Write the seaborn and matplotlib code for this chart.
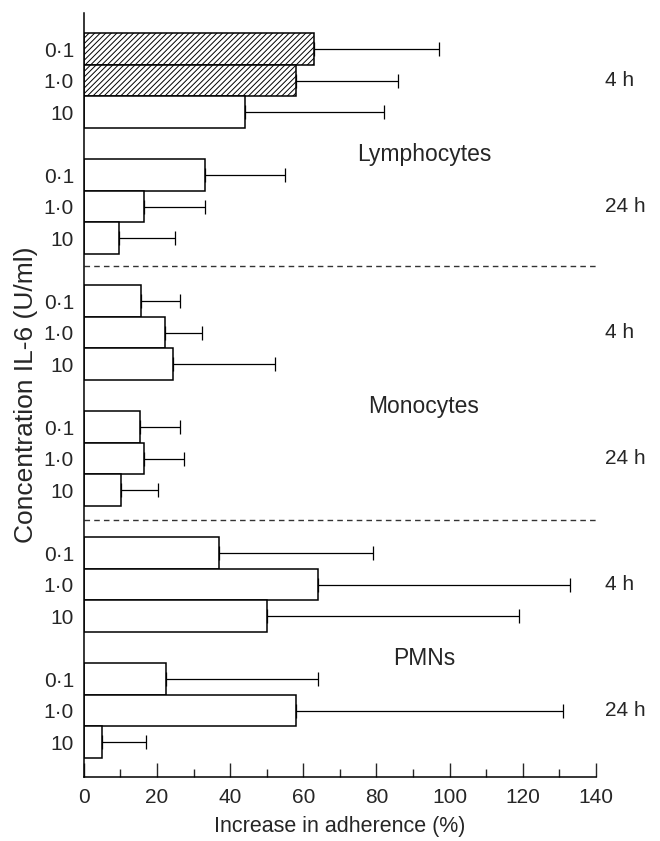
#!/usr/bin/env python3
# -*- coding: utf-8 -*-

import numpy as np
import pandas as pd
import matplotlib
matplotlib.use('Agg')
import matplotlib.pyplot as plt
import matplotlib.ticker as ticker
import seaborn as sns

# --------------------
# DATA
# --------------------
cells = ['Lymphocytes', 'Monocytes', 'PMNs']
times = ['4 h', '24 h']
concs = ['0\u00b71', '1\u00b70', '10']

# mean increase in adherence (%), per cell -> time -> concentration
lymph_mean = [63, 58, 44, 33, 16.5, 9.5]
lymph_err = [97, 86, 82, 55, 33, 25]
mono_mean = [15.5, 22.3, 24.5, 15.3, 16.4, 10.2]
mono_err = [26.4, 32.2, 52.2, 26.2, 27.4, 20.3]
pmn_mean = [37, 64, 50, 22.4, 58, 5]
pmn_err = [79, 133, 119, 64, 131, 17]

hatched = [True, True, False, False, False, False,
           False, False, False, False, False, False,
           False, False, False, False, False, False]

xticks_major = [0, 20, 40, 60, 80, 100, 120, 140]

# --------------------
# BUILD TABLE
# --------------------
rows = []
for b, (cell, means, errs) in enumerate(zip(cells,
                                            [lymph_mean, mono_mean, pmn_mean],
                                            [lymph_err, mono_err, pmn_err])):
    for t, time in enumerate(times):
        for c, conc in enumerate(concs):
            i = t * 3 + c
            rows.append({'cell': cell, 'time': time, 'conc': conc,
                         'pos': b * 8 + t * 4 + c,
                         'value': means[i], 'upper': errs[i]})
df = pd.DataFrame(rows)

# --------------------
# PLOT
# --------------------
sns.set_theme(style='ticks')
plt.rcParams['font.family'] = ['Liberation Sans', 'DejaVu Sans']
plt.rcParams['hatch.linewidth'] = 0.7

fig = plt.figure(figsize=(6.6, 8.41), dpi=100)
ax = fig.add_axes([0.127, 0.076, 0.776, 0.909])

sns.barplot(data=df, x='value', y='pos', orient='h', native_scale=True,
            width=1.0, color='white', edgecolor='black', linewidth=1.1,
            errorbar=None, ax=ax)

for p, h in zip(ax.patches, hatched):
    p.set_facecolor('white')
    if h:
        p.set_hatch('//////')

ax.errorbar(df['value'], df['pos'],
            xerr=[np.zeros(len(df)), df['upper'] - df['value']],
            fmt='none', ecolor='black', elinewidth=0.9, capsize=5, capthick=0.9)

# separators between cell types
for ysep in [6.9, 14.95]:
    ax.plot([0, 140], [ysep, ysep], ls=(0, (4, 3)), color='#333333', lw=1.0)

# annotations
for b, cell in enumerate(cells):
    ax.text(93, b * 8 + 3.33, cell, ha='center', va='center', fontsize=16.5)
    for t, time in enumerate(times):
        ax.text(142.5, b * 8 + t * 4 + 1, time, ha='left', va='center',
                fontsize=15, clip_on=False)

ax.set_xlim(0, 140)
ax.set_ylim(23.11, -1.16)
ax.set_yticks(df['pos'])
ax.set_yticklabels(df['conc'])
ax.tick_params(axis='y', length=0, pad=7, labelsize=15)

ax.xaxis.set_major_locator(ticker.FixedLocator(xticks_major))
ax.xaxis.set_minor_locator(ticker.FixedLocator(np.arange(10, 140, 20)))
ax.tick_params(axis='x', which='major', direction='in', length=10, width=1,
               pad=8, labelsize=15)
ax.tick_params(axis='x', which='minor', direction='in', length=6, width=1)

ax.set_xlabel('Increase in adherence (%)', fontsize=15.5, labelpad=6)
ax.set_ylabel('Concentration IL-6 (U/ml)', fontsize=19, labelpad=4)

sns.despine(ax=ax, top=True, right=True)
for s in ['left', 'bottom']:
    ax.spines[s].set_linewidth(1.1)
    ax.spines[s].set_color('black')

fig.savefig('out.png', dpi=100)
plt.close()
